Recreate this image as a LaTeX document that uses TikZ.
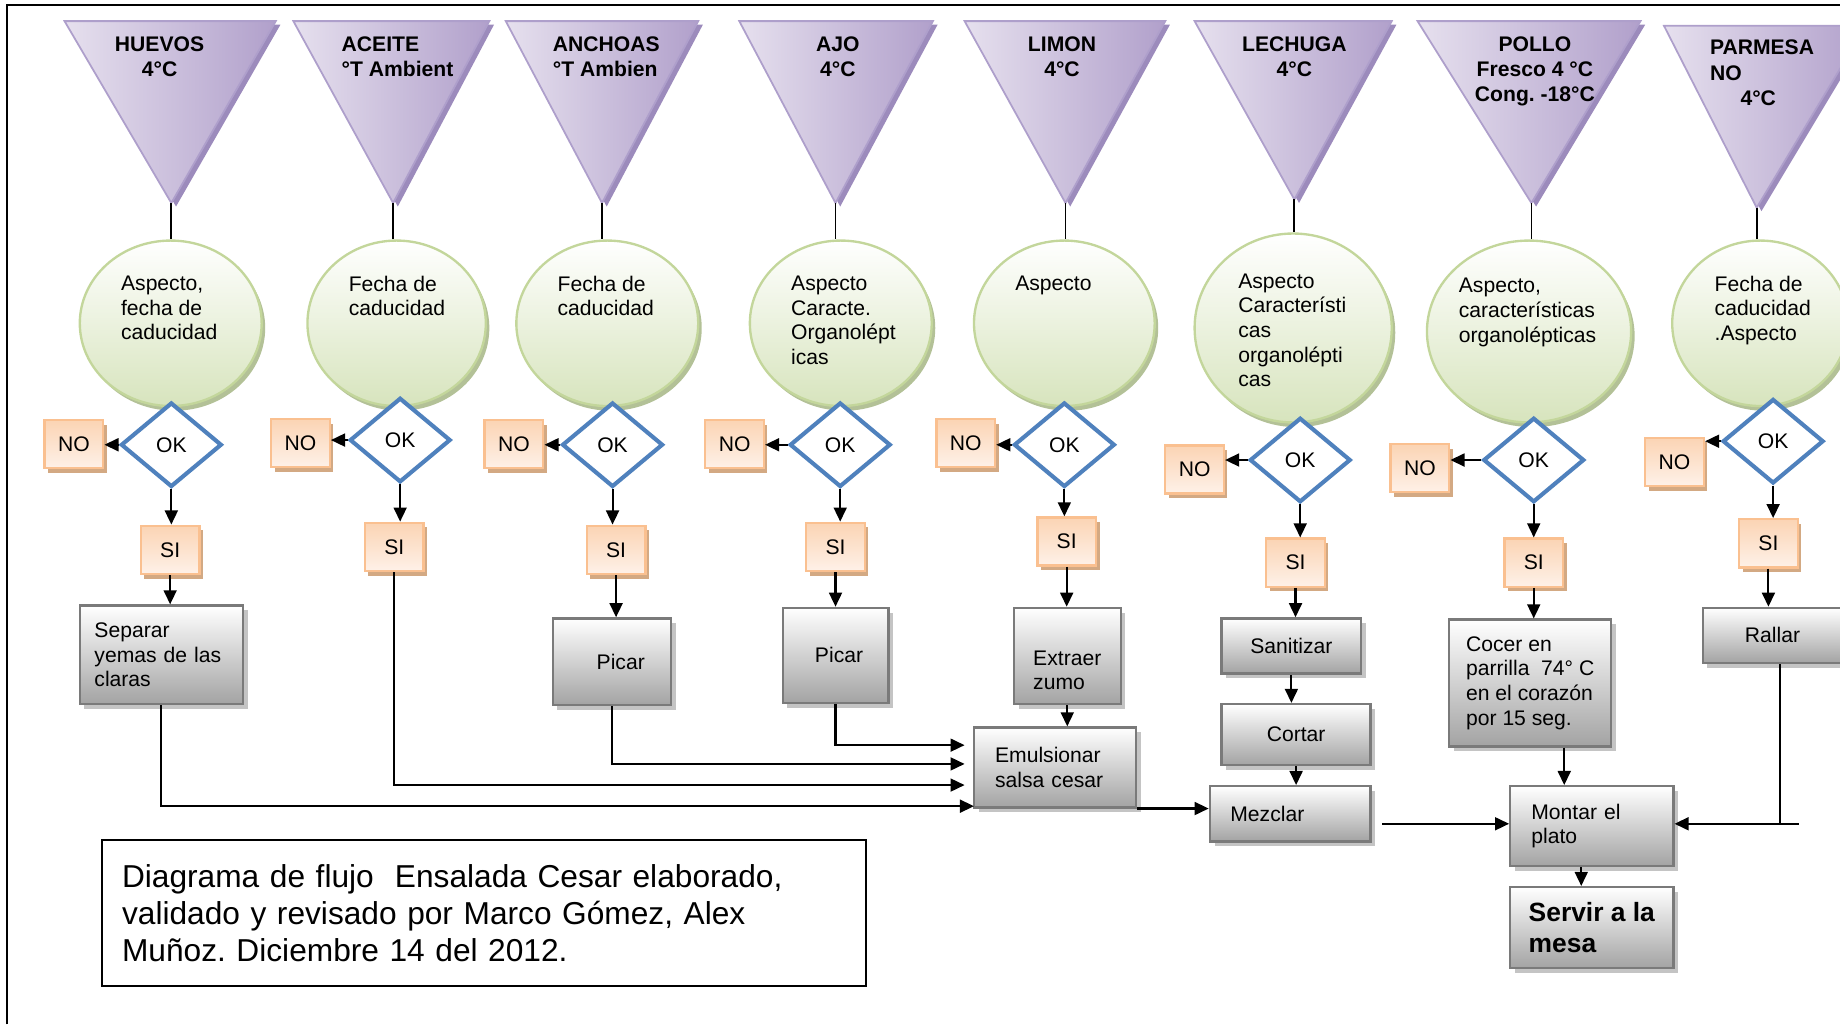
\documentclass[tikz,border=0pt]{standalone}
\usepackage{fontspec}
\setmainfont{Liberation Sans}
\usepackage{xcolor}
\usepackage{tikz}
\usetikzlibrary{positioning,shapes.geometric,shadows,arrows.meta}
\frenchspacing

\definecolor{triL}{HTML}{E6E0EE}
\definecolor{triR}{HTML}{B1A0CB}
\definecolor{triD}{HTML}{AE9FCB}
\definecolor{triS}{HTML}{9C8BBC}
\definecolor{chkB}{HTML}{D7E4BD}
\definecolor{chkD}{HTML}{C3D69B}
\definecolor{chkS}{HTML}{B3C197}
\definecolor{okD}{HTML}{4F81BD}
\definecolor{ynT}{HTML}{FBD4B4}
\definecolor{ynB}{HTML}{FEF1E8}
\definecolor{ynD}{HTML}{FAC090}
\definecolor{ynS}{HTML}{D3A983}
\definecolor{prB}{HTML}{A3A3A3}
\definecolor{prD}{HTML}{7A7A7A}
\definecolor{prS}{HTML}{C4C4C4}

\begin{document}
\begin{tikzpicture}[x=1pt,y=-1pt,
	txt/.style={font=\fontsize{18}{21}\selectfont, inner sep=0pt},
	lab/.style={txt, font=\fontsize{18}{21.5}\selectfont\bfseries},
	tri/.style={draw=triD, line width=1.5pt, left color=triL, right color=triR, drop shadow={shadow xshift=4pt, shadow yshift=-3pt, fill=triS, opacity=1}},
	check/.style={ellipse, draw=chkD, line width=2pt, inner sep=0pt, top color=white, bottom color=chkB, drop shadow={shadow xshift=3pt, shadow yshift=-4pt, fill=chkS, opacity=1}},
	ok/.style={diamond, draw=okD, line width=3.5pt, fill=white, minimum width=86pt, minimum height=72pt, txt},
	yn/.style={rectangle, draw=ynD, line width=2pt, top color=ynT, bottom color=ynB, minimum width=50pt, minimum height=41pt, txt, drop shadow={shadow xshift=3pt, shadow yshift=-4pt, fill=ynS, opacity=1}},
	proc/.style={rectangle, draw=prD, line width=2pt, top color=white, bottom color=prB, align=left, txt, drop shadow={shadow xshift=4pt, shadow yshift=-4pt, fill=prS, opacity=1}},
	flow/.style={line width=1.8pt, -{Triangle[length=12pt,width=11pt]}},
	link/.style={line width=1.5pt}]
						\clip (0,0) rectangle (1568,873);
						\draw[line width=1.8pt] (6,873) -- (6,4) -- (1568,4);

						\path[tri] (55,18) -- (235,18) -- (146,173) coordinate (a1) -- cycle;
						\path[tri] (250,18) -- (417,18) -- (335,173) coordinate (a2) -- cycle;
						\path[tri] (431,18) -- (595,18) -- (513,173) coordinate (a3) -- cycle;
						\path[tri] (630,18) -- (795,18) -- (712,173) coordinate (a4) -- cycle;
						\path[tri] (822,18) -- (993,18) -- (908,173) coordinate (a5) -- cycle;
						\path[tri] (1018,18) -- (1186,18) -- (1103,170) coordinate (a6) -- cycle;
						\path[tri] (1208,18) -- (1398,18) -- (1305,173) coordinate (a7) -- cycle;
						\path[tri] (1418,22) -- (1590,22) -- (1497,177) coordinate (a8) -- cycle;

						\node[lab, align=center, anchor=north] (tl1) at (136,31) {HUEVOS\\4°C};
						\node[lab, align=left, anchor=north west] (tl2) at (291,31) {ACEITE\\°T Ambient};
						\node[lab, align=left, anchor=north west] (tl3) at (471,31) {ANCHOAS\\°T Ambien};
						\node[lab, align=center, anchor=north] (tl4) at (714,31) {AJO\\4°C};
						\node[lab, align=center, anchor=north] (tl5) at (905,31) {LIMON\\4°C};
						\node[lab, align=center, anchor=north] (tl6) at (1103,31) {LECHUGA\\4°C};
						\node[lab, align=center, anchor=north] (tl7) at (1308,31) {POLLO\\Fresco 4 °C\\Cong. -18°C};
						\node[lab, align=left, anchor=north west] (tl8) at (1457,34) {PARMESA\\NO\\\hspace*{26pt}4°C};

						\node[check, minimum width=155pt, minimum height=141pt] (c1) at (145.5,275.5) {};
						\node[check, minimum width=152pt, minimum height=141pt] (c2) at (338,275.5) {};
						\node[check, minimum width=155pt, minimum height=141pt] (c3) at (517.5,275.5) {};
						\node[check, minimum width=155pt, minimum height=141pt] (c4) at (716.5,275.5) {};
						\node[check, minimum width=154pt, minimum height=141pt] (c5) at (907,275.5) {};
						\node[check, minimum width=168pt, minimum height=161pt] (c6) at (1102,279.5) {};
						\node[check, minimum width=174pt, minimum height=155pt] (c7) at (1303,282.5) {};
						\node[check, minimum width=150pt, minimum height=141pt] (c8) at (1500,275.5) {};

						\node[txt, align=left, anchor=north west] (ct1) at (103,235) {Aspecto,\\fecha de\\caducidad};
						\node[txt, align=left, anchor=north west] (ct2) at (297,235) {Fecha de\\caducidad};
						\node[txt, align=left, anchor=north west] (ct3) at (475,235) {Fecha de\\caducidad};
						\node[txt, align=left, anchor=north west] (ct4) at (674,235) {Aspecto\\Caracte.\\Organolépt\\icas};
						\node[txt, align=left, anchor=north west] (ct5) at (865,235) {Aspecto};
						\node[txt, align=left, anchor=north west] (ct6) at (1055,233) {Aspecto\\Característi\\cas\\organolépti\\cas};
						\node[txt, align=left, anchor=north west] (ct7) at (1243,237) {Aspecto,\\características\\organolépticas};
						\node[txt, align=left, anchor=north west] (ct8) at (1461,235) {Fecha de\\caducidad\\.Aspecto};

						\foreach \i in {1,...,8} \draw[link] (a\i) -- (a\i |- c\i.north);

						\node[ok] (ok1) at (146,379) {OK};
						\node[ok] (ok2) at (341,375) {OK};
						\node[ok] (ok3) at (522,379) {OK};
						\node[ok] (ok4) at (716,379) {OK};
						\node[ok] (ok5) at (907,379) {OK};
						\node[ok] (ok6) at (1108,392) {OK};
						\node[ok] (ok7) at (1307,392) {OK};
						\node[ok] (ok8) at (1511,376) {OK};

						\node[yn] (no1) at (63,378.5) {NO};
						\node[yn] (no2) at (256,377.5) {NO};
						\node[yn] (no3) at (438,378.5) {NO};
						\node[yn] (no4) at (626,378.5) {NO};
						\node[yn] (no5) at (823,377.5) {NO};
						\node[yn] (no6) at (1018,400) {NO};
						\node[yn] (no7) at (1210,399) {NO};
						\node[yn] (no8) at (1427,393.5) {NO};

						\node[yn] (si1) at (145,468.5) {SI};
						\node[yn] (si2) at (336,466) {SI};
						\node[yn] (si3) at (525,468.5) {SI};
						\node[yn] (si4) at (712,466) {SI};
						\node[yn] (si5) at (909,461.5) {SI};
						\node[yn] (si6) at (1104,479.5) {SI};
						\node[yn] (si7) at (1307,479.5) {SI};
						\node[yn] (si8) at (1507,463) {SI};

						\foreach \i in {1,...,8} {
							\draw[flow] (ok\i.west) -- (ok\i.west -| no\i.east);
							\draw[flow] (ok\i.south) -- (ok\i.south |- si\i.north);
						}

						\node[proc, minimum width=139pt, minimum height=84pt, text width=114pt] (sep) at (137.5,558) {Separar\\yemas de las\\claras};
						\node[proc, minimum width=101pt, minimum height=74pt] (pic3) at (521.5,564) {\hspace*{15pt}Picar};
						\node[proc, minimum width=90pt, minimum height=81pt] (pic4) at (712,558.5) {\hspace*{6pt}Picar};
						\node[proc, minimum width=91pt, minimum height=82pt] (zum) at (909.5,559) {\rule{0pt}{37pt}Extraer\\zumo};
						\node[proc, minimum width=138pt, minimum height=68pt, text width=102pt] (emu) at (899,654) {Emulsionar\\salsa cesar};
						\node[proc, minimum width=119pt, minimum height=47pt, align=center] (san) at (1100.5,550.5) {Sanitizar};
						\node[proc, minimum width=127pt, minimum height=52pt, align=center] (cor) at (1104.5,626) {Cortar};
						\node[proc, minimum width=137pt, minimum height=47pt, text width=102pt] (mez) at (1099.5,693.5) {Mezclar};
						\node[proc, minimum width=138pt, minimum height=108pt] (coc) at (1304,582) {Cocer en\\parrilla\ \ 74° C\\en el corazón\\por 15 seg.};
						\node[proc, minimum width=139pt, minimum height=68pt, text width=103pt] (mon) at (1356.5,704) {Montar el\\plato};
						\node[proc, minimum width=139pt, minimum height=69pt, font=\fontsize{22.5}{26}\selectfont\bfseries] (ser) at (1356.5,790.5) {Servir a la\\mesa};
						\node[proc, minimum width=119pt, minimum height=47pt, align=center] (ral) at (1510.5,541.5) {Rallar};

						\draw[flow] (si1.south) -- (si1.south |- sep.north);
						\draw[flow] (si3.south) -- (si3.south |- pic3.north);
						\draw[flow] (si4.south) -- (si4.south |- pic4.north);
						\draw[flow] (si5.south) -- (si5.south |- zum.north);
						\draw[flow] (si6.south) -- (si6.south |- san.north);
						\draw[flow] (si7.south) -- (si7.south |- coc.north);
						\draw[flow] (si8.south) -- (si8.south |- ral.north);

						\coordinate (in1) at (830,687);
						\coordinate (in2) at (822,669);
						\coordinate (in3) at (822,651);
						\coordinate (in4) at (822,635);
						\draw[flow] (sep.south) |- (in1);
						\draw[flow] (si2.south) |- (in2);
						\draw[flow] (pic3.south) |- (in3);
						\draw[flow] (pic4.south) |- (in4);
						\draw[flow] (zum.south) -- (zum.south |- emu.north);
						\draw[flow] (emu.south east) -- (emu.south east -| mez.west);

						\draw[flow] (san.south) -- (san.south |- cor.north);
						\draw[flow] (cor.south) -- (cor.south |- mez.north);

						\coordinate (mezout) at (1178,702);
						\draw[flow] (mezout) -- (mezout -| mon.west);
						\draw[flow] ([xshift=29pt]coc.south) -- ([xshift=29pt]coc.south |- mon.north);
						\coordinate (rj) at (1517,702);
						\coordinate (rr) at (1533,702);
						\draw[link] (rj |- ral.south) -- (rj);
						\draw[flow] (rr) -- (rr -| mon.east);
						\draw[flow] ([xshift=-9pt]mon.south) -- ([xshift=-9pt]ser.north);

						\node[draw, line width=1.5pt, minimum width=651pt, minimum height=124pt, text width=617pt, align=left, inner sep=0pt, font=\fontsize{27}{31.5}\selectfont] (cap) at (412.5,778) {Diagrama de flujo\ \ Ensalada Cesar elaborado,\\validado y revisado por Marco Gómez, Alex\\Muñoz. Diciembre 14 del 2012.\\[-10pt]};

					\end{tikzpicture}
\end{document}
